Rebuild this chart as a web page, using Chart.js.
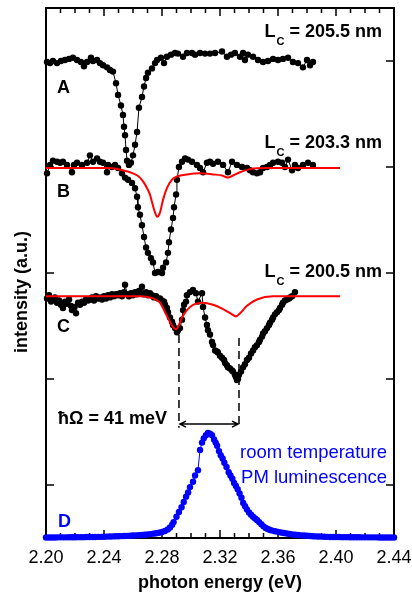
<!DOCTYPE html>
<html>
<head>
<meta charset="utf-8">
<title>Polariton spectra</title>
<script src="https://cdn.jsdelivr.net/npm/chart.js@4.4.1/dist/chart.umd.min.js"></script>
<style>
  html, body { margin: 0; padding: 0; background: #fff; }
  #wrap { width: 412px; height: 594px; position: relative; }
</style>
</head>
<body>
<div id="wrap"><canvas id="spectra"></canvas></div>
<script>
// photon energy axis
const energyTicks = [2.20, 2.24, 2.28, 2.32, 2.36, 2.40, 2.44];
const levelTicks = [0.5, 1.5, 2.5, 3.5, 4.5];
const cavityLengths = ['205.5', '203.3', '200.5'];

// A: Lc = 205.5 nm
const aX = [2.2007,2.2028,2.2048,2.2076,2.2103,2.2131,2.2159,2.2186,2.2214,2.2241,2.2262,2.2283,2.2310,2.2324,2.2352,2.2372,2.2393,2.2421,2.2441,2.2462,
  2.2483,2.2497,2.2517,2.2531,2.2538,2.2545,2.2552,2.2559,2.2572,2.2586,2.2600,2.2614,2.2628,2.2641,2.2662,2.2676,2.2690,2.2703,2.2731,2.2752,
  2.2766,2.2793,2.2814,2.2834,2.2862,2.2890,2.2910,2.2945,2.2972,2.3007,2.3028,2.3062,2.3097,2.3131,2.3166,2.3214,2.3248,2.3276,2.3303,2.3338,
  2.3359,2.3372,2.3393,2.3428,2.3462,2.3497,2.3531,2.3566,2.3600,2.3634,2.3669,2.3703,2.3738,2.3772,2.3800,2.3821,2.3841];
const aY = [4.49,4.48,4.50,4.48,4.50,4.51,4.52,4.53,4.51,4.49,4.45,4.49,4.53,4.50,4.51,4.48,4.46,4.44,4.415,4.40,
  4.29,4.18,4.08,3.99,3.88,3.80,3.66,3.56,3.52,3.54,3.61,3.71,3.83,4.06,4.16,4.26,4.34,4.39,4.43,4.48,
  4.51,4.53,4.48,4.54,4.56,4.575,4.57,4.54,4.575,4.575,4.56,4.575,4.57,4.57,4.575,4.59,4.54,4.56,4.575,4.54,
  4.575,4.51,4.56,4.54,4.51,4.49,4.50,4.52,4.51,4.52,4.53,4.49,4.48,4.44,4.51,4.46,4.49];

// B: Lc = 203.3 nm
const bX = [2.2007,2.2028,2.2048,2.2076,2.2097,2.2117,2.2145,2.2179,2.2193,2.2214,2.2248,2.2283,2.2303,2.2324,2.2352,2.2372,2.2393,2.2421,2.2428,2.2455,
  2.2476,2.2497,2.2524,2.2545,2.2566,2.2593,2.2614,2.2628,2.2634,2.2648,2.2662,2.2676,2.2690,2.2703,2.2724,2.2738,2.2752,2.2772,2.2800,2.2807,
  2.2828,2.2841,2.2848,2.2862,2.2876,2.2883,2.2897,2.2903,2.2917,2.2938,2.2959,2.2979,2.3007,2.3041,2.3062,2.3083,2.3110,2.3131,2.3152,2.3186,
  2.3221,2.3255,2.3283,2.3317,2.3352,2.3386,2.3407,2.3428,2.3455,2.3476,2.3497,2.3524,2.3545,2.3566,2.3600,2.3628,2.3648,2.3669,2.3697,2.3717,
  2.3738,2.3772,2.3807,2.3841];
const bY = [3.44,3.52,3.56,3.55,3.54,3.55,3.52,3.45,3.52,3.54,3.52,3.54,3.61,3.55,3.58,3.55,3.54,3.45,3.52,3.50,
  3.52,3.49,3.44,3.40,3.38,3.35,3.30,3.22,3.12,3.05,2.95,2.84,2.74,2.69,2.64,2.60,2.50,2.51,2.50,2.55,
  2.60,2.69,2.79,2.91,3.02,3.12,3.24,3.38,3.50,3.55,3.58,3.57,3.55,3.52,3.49,3.45,3.54,3.55,3.53,3.55,
  3.52,3.45,3.55,3.52,3.50,3.49,3.47,3.45,3.44,3.45,3.49,3.50,3.52,3.54,3.55,3.54,3.50,3.57,3.47,3.52,
  3.49,3.52,3.54,3.52];
const bFitX = [2.2000,2.2421,2.2531,2.2600,2.2648,2.2676,2.2697,2.2717,2.2731,2.2752,2.2766,2.2786,2.2807,2.2834,2.2869,2.2903,2.2972,2.3062,2.3152,2.3214,
  2.3255,2.3290,2.3338,2.3407,2.3524,2.4028];
const bFitY = [3.49,3.49,3.47,3.44,3.40,3.35,3.30,3.24,3.17,3.07,3.03,3.07,3.19,3.30,3.38,3.41,3.43,3.44,3.43,3.42,
  3.40,3.42,3.45,3.48,3.49,3.49];

// C: Lc = 200.5 nm
const cX = [2.2007,2.2021,2.2035,2.2048,2.2062,2.2076,2.2090,2.2103,2.2117,2.2131,2.2145,2.2159,2.2172,2.2179,2.2193,2.2207,2.2221,2.2234,2.2248,2.2262,
  2.2276,2.2290,2.2303,2.2317,2.2331,2.2345,2.2359,2.2372,2.2386,2.2400,2.2414,2.2428,2.2441,2.2455,2.2469,2.2483,2.2497,2.2510,2.2524,2.2538,
  2.2545,2.2559,2.2572,2.2586,2.2600,2.2614,2.2628,2.2641,2.2655,2.2662,2.2676,2.2690,2.2703,2.2717,2.2731,2.2745,2.2759,2.2772,2.2786,2.2800,
  2.2814,2.2821,2.2834,2.2841,2.2855,2.2869,2.2876,2.2890,2.2903,2.2910,2.2924,2.2938,2.2945,2.2952,2.2966,2.2972,2.2993,2.3014,2.3034,2.3048,
  2.3076,2.3083,2.3097,2.3110,2.3117,2.3131,2.3145,2.3152,2.3166,2.3179,2.3186,2.3200,2.3214,2.3228,2.3235,2.3248,2.3255,2.3269,2.3283,2.3290,
  2.3303,2.3310,2.3317,2.3324,2.3331,2.3345,2.3359,2.3372,2.3386,2.3400,2.3414,2.3428,2.3441,2.3455,2.3469,2.3476,2.3490,2.3497,2.3510,2.3524,
  2.3538,2.3545,2.3559,2.3566,2.3579,2.3593,2.3607,2.3614,2.3628,2.3634,2.3648,2.3662,2.3676,2.3683,2.3697,2.3717];
const cY = [2.26,2.29,2.23,2.25,2.27,2.22,2.24,2.20,2.17,2.23,2.21,2.25,2.19,2.15,2.18,2.12,2.22,2.20,2.23,2.22,
  2.25,2.24,2.25,2.27,2.24,2.28,2.26,2.27,2.25,2.28,2.26,2.29,2.27,2.30,2.28,2.30,2.29,2.31,2.28,2.32,
  2.39,2.30,2.28,2.31,2.29,2.32,2.30,2.33,2.31,2.37,2.30,2.32,2.29,2.31,2.29,2.27,2.28,2.26,2.26,2.24,
  2.23,2.20,2.17,2.13,2.08,2.04,2.01,1.98,1.94,1.96,1.98,2.06,2.15,2.20,2.23,2.29,2.32,2.34,2.31,2.23,
  2.31,2.18,2.08,2.01,1.96,1.92,1.85,1.82,1.77,1.76,1.75,1.72,1.70,1.68,1.65,1.63,1.61,1.60,1.58,1.57,
  1.54,1.52,1.49,1.50,1.54,1.57,1.61,1.64,1.68,1.70,1.74,1.77,1.80,1.82,1.85,1.87,1.90,1.93,1.95,1.98,
  2.01,2.03,2.06,2.08,2.11,2.13,2.15,2.17,2.20,2.22,2.24,2.25,2.26,2.27,2.28,2.32];
const cFitX = [2.2000,2.2648,2.2738,2.2786,2.2821,2.2855,2.2876,2.2897,2.2910,2.2938,2.2972,2.3014,2.3083,2.3152,2.3221,2.3283,2.3310,2.3338,2.3386,2.3455,
  2.3566,2.4028];
const cFitY = [2.28,2.28,2.26,2.22,2.13,2.04,1.99,1.97,1.99,2.08,2.15,2.20,2.22,2.20,2.16,2.11,2.09,2.12,2.19,2.25,
  2.28,2.28];

// D: room temperature PM luminescence
const dX = [2.200,2.202,2.204,2.206,2.208,2.210,2.212,2.214,2.216,2.218,2.220,2.222,2.224,2.226,2.228,2.230,2.232,2.234,2.236,2.238,
  2.240,2.242,2.244,2.246,2.248,2.250,2.252,2.254,2.256,2.258,2.260,2.262,2.264,2.266,2.268,2.270,2.272,2.274,2.276,2.278,
  2.280,2.282,2.284,2.2855,2.287,2.288,2.290,2.2917,2.2935,2.295,2.2966,2.298,2.2993,2.3014,2.3028,2.3048,2.3062,2.3076,2.3088,2.3103,
  2.3117,2.3131,2.3145,2.3159,2.317,2.318,2.3193,2.3205,2.3218,2.323,2.3245,2.326,2.3272,2.3285,2.3297,2.331,2.3322,2.3335,2.3348,2.336,
  2.3373,2.3386,2.340,2.3414,2.3428,2.3442,2.3455,2.347,2.3485,2.350,2.3515,2.353,2.3545,2.356,2.358,2.360,2.362,2.364,2.366,2.368,
  2.370,2.372,2.374,2.376,2.378,2.380,2.382,2.384,2.386,2.388,2.390,2.392,2.394,2.396,2.398,2.400,2.402,2.404,2.406,2.408,
  2.410,2.412,2.414,2.416,2.418,2.420,2.422,2.424,2.426,2.428,2.430,2.432,2.434,2.436,2.438,2.440];
const dY = [0.005,0.005,0.005,0.005,0.006,0.006,0.006,0.006,0.007,0.007,0.007,0.008,0.008,0.008,0.009,0.009,0.010,0.010,0.011,0.011,
  0.012,0.013,0.014,0.015,0.016,0.017,0.018,0.019,0.020,0.021,0.023,0.025,0.027,0.029,0.031,0.034,0.037,0.041,0.045,0.050,
  0.056,0.066,0.080,0.10,0.125,0.15,0.20,0.245,0.29,0.34,0.39,0.43,0.48,0.53,0.59,0.64,0.83,0.90,0.94,0.97,
  0.99,0.985,0.97,0.93,0.90,0.87,0.82,0.78,0.75,0.71,0.67,0.62,0.59,0.56,0.52,0.49,0.46,0.42,0.38,0.33,
  0.30,0.27,0.24,0.22,0.20,0.185,0.17,0.15,0.13,0.11,0.095,0.085,0.075,0.070,0.064,0.058,0.052,0.047,0.043,0.038,
  0.034,0.031,0.028,0.025,0.023,0.021,0.019,0.017,0.015,0.014,0.013,0.012,0.011,0.010,0.010,0.009,0.009,0.008,0.008,0.008,
  0.007,0.007,0.007,0.007,0.006,0.006,0.006,0.006,0.006,0.006,0.005,0.005,0.005,0.005,0.005,0.005];

const FONT = "'Liberation Sans', Arial, sans-serif";
const toPts = (xs, ys) => xs.map((v, i) => ({ x: v, y: ys[i] }));

function dots(label, xs, ys, color, order) {
  return {
    label: label,
    data: toPts(xs, ys),
    showLine: true,
    borderColor: color,
    borderWidth: 1,
    pointRadius: 3.2,
    pointBorderWidth: 0,
    pointBackgroundColor: color,
    order: order,
    clip: false
  };
}

function fit(label, xs, ys) {
  return {
    label: label,
    data: toPts(xs, ys),
    showLine: true,
    borderColor: '#ff0000',
    borderWidth: 2,
    pointRadius: 0,
    cubicInterpolationMode: 'monotone',
    order: 0,
    clip: false
  };
}

// L with a subscript C, right-aligned
function lcLabel(ctx, right, base, value) {
  const rest = ' = ' + value + ' nm';
  ctx.font = 'bold 18px ' + FONT;
  const wL = ctx.measureText('L').width;
  const wR = ctx.measureText(rest).width;
  ctx.font = 'bold 11px ' + FONT;
  const wC = ctx.measureText('C').width + 1;
  const x0 = right - wL - wC - wR;
  ctx.font = 'bold 18px ' + FONT;
  ctx.fillText('L', x0, base);
  ctx.fillText(rest, x0 + wL + wC, base);
  ctx.font = 'bold 11px ' + FONT;
  ctx.fillText('C', x0 + wL + 1, base + 8);
}

const frame = {
  id: 'frame',
  beforeDatasetsDraw(chart) {
    const { ctx, chartArea: a, scales: { x, y } } = chart;
    ctx.save();
    ctx.strokeStyle = '#000';
    ctx.lineWidth = 2;
    ctx.strokeRect(a.left, a.top, a.right - a.left, a.bottom - a.top);
    ctx.lineWidth = 1.5;
    ctx.beginPath();
    // minor ticks every 10 meV, longer ones on the labelled energies
    for (let i = 0; i <= 24; i++) {
      const px = x.getPixelForValue(x.min + i * 0.01);
      const len = i % 4 === 0 ? 8 : 5;
      ctx.moveTo(px, a.bottom); ctx.lineTo(px, a.bottom - len);
      ctx.moveTo(px, a.top); ctx.lineTo(px, a.top + len);
    }
    levelTicks.forEach(v => {
      const py = y.getPixelForValue(v);
      ctx.moveTo(a.left, py); ctx.lineTo(a.left + 8, py);
      ctx.moveTo(a.right, py); ctx.lineTo(a.right - 8, py);
    });
    ctx.stroke();
    ctx.restore();
  },
  afterDatasetsDraw(chart) {
    const { ctx, scales: { x, y } } = chart;
    const X = v => x.getPixelForValue(v);
    const Y = v => y.getPixelForValue(v);
    ctx.save();
    ctx.fillStyle = '#000';
    ctx.strokeStyle = '#000';
    ctx.textAlign = 'left';
    ctx.textBaseline = 'alphabetic';

    lcLabel(ctx, X(2.4317), Y(4.726), cavityLengths[0]);
    lcLabel(ctx, X(2.4317), Y(3.679), cavityLengths[1]);
    lcLabel(ctx, X(2.4317), Y(2.462), cavityLengths[2]);

    ctx.font = 'bold 18px ' + FONT;
    ctx.fillText('A', X(2.2076), Y(4.198));
    ctx.fillText('B', X(2.2076), Y(3.217));
    ctx.fillText('C', X(2.2076), Y(1.943));
    ctx.fillText('\u0127\u03A9 = 41 meV', X(2.2083), Y(1.08));

    // splitting between the two dips of C
    const e1 = 2.2917, e2 = 2.3331;
    ctx.lineWidth = 1.5;
    ctx.setLineDash([8, 5]);
    ctx.beginPath();
    ctx.moveTo(X(e1), Y(1.915)); ctx.lineTo(X(e1), Y(1.04));
    ctx.moveTo(X(e2), Y(1.887)); ctx.lineTo(X(e2), Y(1.04));
    ctx.stroke();
    ctx.setLineDash([]);
    const ay = Y(1.075);
    ctx.beginPath();
    ctx.moveTo(X(e1) + 1, ay); ctx.lineTo(X(e2) - 1, ay);
    ctx.moveTo(X(e1) + 7, ay - 3); ctx.lineTo(X(e1) + 1, ay); ctx.lineTo(X(e1) + 7, ay + 3);
    ctx.moveTo(X(e2) - 7, ay - 3); ctx.lineTo(X(e2) - 1, ay); ctx.lineTo(X(e2) - 7, ay + 3);
    ctx.stroke();

    ctx.fillStyle = '#0000ff';
    ctx.fillText('D', X(2.2083), Y(0.104));
    ctx.font = '18.5px ' + FONT;
    ctx.textAlign = 'right';
    ctx.fillText('room temperature', X(2.4352), Y(0.755));
    ctx.fillText('PM luminescence', X(2.4352), Y(0.519));

    // vertical axis title
    ctx.fillStyle = '#000';
    ctx.textAlign = 'center';
    ctx.textBaseline = 'middle';
    ctx.font = 'bold 18px ' + FONT;
    ctx.translate(22, 292);
    ctx.rotate(-Math.PI / 2);
    ctx.fillText('intensity (a.u.)', 0, 0);
    ctx.restore();
  }
};

new Chart(document.getElementById('spectra'), {
  type: 'scatter',
  data: {
    datasets: [
      fit('B fit', bFitX, bFitY),
      fit('C fit', cFitX, cFitY),
      dots('A', aX, aY, '#000000', 1),
      dots('B', bX, bY, '#000000', 1),
      dots('C', cX, cY, '#000000', 1),
      dots('D', dX, dY, '#0000ff', 2)
    ]
  },
  options: {
    responsive: true,
    maintainAspectRatio: false,
    animation: false,
    devicePixelRatio: 1,
    layout: { padding: { top: 8, right: 18, left: 0, bottom: 0 } },
    plugins: {
      legend: { display: false },
      tooltip: { enabled: false }
    },
    scales: {
      x: {
        type: 'linear',
        min: 2.20,
        max: 2.44,
        afterBuildTicks: s => { s.ticks = energyTicks.map(v => ({ value: v })); },
        afterFit: s => { s.height = 56; s.paddingLeft = 0; s.paddingRight = 0; },
        grid: { display: false, drawTicks: false },
        border: { display: false },
        ticks: {
          callback: v => v.toFixed(2),
          color: '#000',
          padding: 9,
          maxRotation: 0,
          autoSkip: false,
          font: { family: FONT, size: 18 }
        },
        title: {
          display: true,
          text: 'photon energy (eV)',
          color: '#000',
          padding: 0,
          font: { family: FONT, size: 18, weight: 'bold' }
        }
      },
      y: {
        type: 'linear',
        min: 0,
        max: 5,
        afterFit: s => { s.width = 46; },
        grid: { display: false, drawTicks: false },
        border: { display: false },
        ticks: { display: false }
      }
    }
  },
  plugins: [frame]
});
</script>
</body>
</html>
